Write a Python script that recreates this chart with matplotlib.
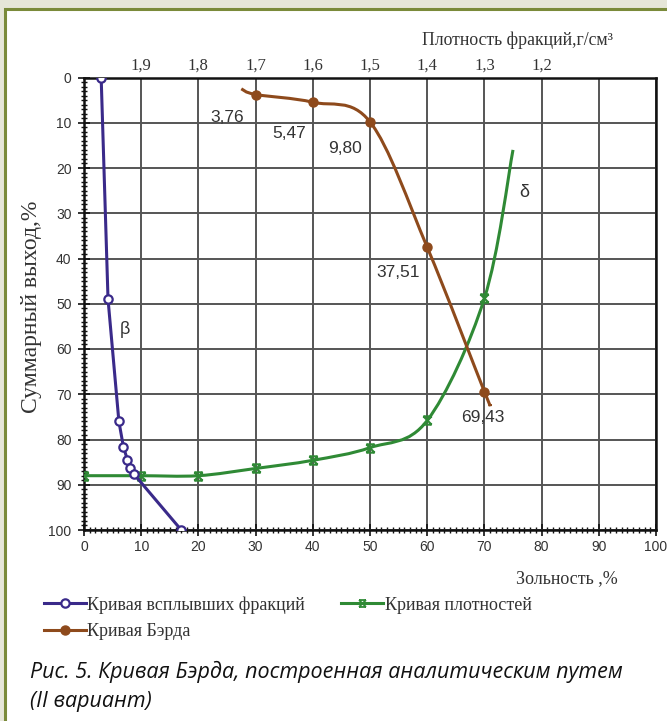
import numpy as np
import matplotlib
matplotlib.use('Agg')
import matplotlib.pyplot as plt
from matplotlib.path import Path
from matplotlib.patches import PathPatch, Rectangle
from matplotlib.lines import Line2D
from matplotlib.ticker import MultipleLocator

# ---- data ----
float_x = [3.0, 4.2, 6.1, 6.9, 7.6, 8.1, 8.7, 17.0]
float_y = [0, 49, 76, 81.7, 84.5, 86.3, 87.6, 100]

dens_x = [0, 10, 20, 30, 40, 50, 60, 70, 75]
dens_y = [88, 88, 88, 86.4, 84.6, 81.8, 75.8, 48.8, 16]

baird_x = [27.5, 30, 40, 50, 60, 70, 71]
baird_y = [2.5, 3.76, 5.47, 9.80, 37.51, 69.43, 72.2]
baird_labels = ['3,76', '5,47', '9,80', '37,51', '69,43']
baird_label_pos = [(25.1, 8.9), (35.8, 12.3), (45.7, 15.6), (55.0, 43.2), (69.8, 75.1)]

density_ticks = [10, 20, 30, 40, 50, 60, 70, 80]
density_labels = ['1,9', '1,8', '1,7', '1,6', '1,5', '1,4', '1,3', '1,2']

BLUE = '#3a2a8a'
GREEN = '#2f8a35'
BROWN = '#8e4a1c'
SERIF = 'Liberation Serif'
SANS = 'Liberation Sans'


def smooth_path(x, y):
    pts = np.column_stack([x, y]).astype(float)
    n = len(pts)
    verts = [pts[0]]
    codes = [Path.MOVETO]
    for i in range(n - 1):
        p0 = pts[i - 1] if i > 0 else pts[i]
        p1 = pts[i]
        p2 = pts[i + 1]
        p3 = pts[i + 2] if i + 2 < n else pts[i + 1]
        verts += [p1 + (p2 - p0) / 6.0, p2 - (p3 - p1) / 6.0, p2]
        codes += [Path.CURVE4] * 3
    return Path(verts, codes)


star = Path([(-1, 1), (1, -1), (-1, -1), (1, 1), (-1, 1), (1, 1), (-1, -1), (1, -1)],
            [Path.MOVETO, Path.LINETO, Path.MOVETO, Path.LINETO,
             Path.MOVETO, Path.LINETO, Path.MOVETO, Path.LINETO])

W, H = 667, 721
fig = plt.figure(figsize=(W / 100, H / 100), dpi=100)
fig.patch.set_facecolor('#e6e6d8')
fig.patches.append(Rectangle((5 / W, -0.01), 1, 1.01 - 9 / H, transform=fig.transFigure,
                             facecolor='white', edgecolor='#7a8a3a', lw=2.2, zorder=-10))

ax = fig.add_axes([84 / W, 1 - 530 / H, (656 - 84) / W, (530 - 77.5) / H])
ax.set_xlim(0, 100)
ax.set_ylim(100, 0)
ax.xaxis.set_major_locator(MultipleLocator(10))
ax.xaxis.set_minor_locator(MultipleLocator(1))
ax.yaxis.set_major_locator(MultipleLocator(10))
ax.yaxis.set_minor_locator(MultipleLocator(1))
ax.grid(True, which='major', color='#555555', lw=1.4)
ax.set_axisbelow(True)
for s in ax.spines.values():
    s.set_color('#111111')
    s.set_linewidth(1.8)
ax.tick_params(which='major', direction='inout', length=8, width=1.2, colors='#111111',
               labelsize=10, pad=5, labelcolor='#333333')
ax.tick_params(which='minor', direction='inout', length=5, width=1.0, colors='#111111')
ax.tick_params(axis='x', which='major', pad=3)
for lab in ax.get_xticklabels() + ax.get_yticklabels():
    lab.set_fontfamily(SANS)

# top density axis
top = ax.secondary_xaxis('top')
top.set_xticks(density_ticks)
top.set_xticklabels(density_labels)
top.tick_params(length=0, pad=3, labelsize=12, labelcolor='#333333')
top.spines['top'].set_visible(False)
for lab in top.get_xticklabels():
    lab.set_fontfamily(SERIF)

# curves
ax.plot(float_x, float_y, color=BLUE, lw=2.2, marker='o', ms=6, mfc='white',
        mec=BLUE, mew=1.6, zorder=4)
ax.add_patch(PathPatch(smooth_path(dens_x, dens_y), fill=False, edgecolor=GREEN, lw=2.2, zorder=3))
ax.plot(dens_x[:-1], dens_y[:-1], ls='none', marker=star, ms=6, mec=GREEN, mfc='none', mew=1.5, zorder=3)
ax.add_patch(PathPatch(smooth_path(baird_x, baird_y), fill=False, edgecolor=BROWN, lw=2.2, zorder=3))
ax.plot(baird_x[1:-1], baird_y[1:-1], ls='none', marker='o', ms=6.5, color=BROWN, zorder=4)

for t, (lx, ly) in zip(baird_labels, baird_label_pos):
    ax.text(lx, ly, t, ha='center', va='center', fontsize=12.5, family=SANS, color='#333333')

ax.text(7.2, 55.8, 'β', ha='center', va='center', fontsize=13, family=SANS, color='#333333')
ax.text(77, 25.5, 'δ', ha='center', va='center', fontsize=13, family=SANS, color='#333333')

# axis titles
fig.text(32 / W, 1 - 307 / H, 'Суммарный выход,%', rotation=90, ha='center', va='center',
         fontsize=17, family=SERIF, color='#333333')
fig.text(517 / W, 1 - 40 / H, 'Плотность фракций,г/см³', ha='center', va='center',
         fontsize=12.8, family=SERIF, color='#333333')
fig.text(567 / W, 1 - 579 / H, 'Зольность ,%', ha='center', va='center',
         fontsize=13, family=SERIF, color='#333333')

# legend
handles = [
    Line2D([], [], color=BLUE, lw=2.2, marker='o', ms=6, mfc='white', mec=BLUE, mew=1.6),
    Line2D([], [], color=BROWN, lw=2.2, marker='o', ms=6.5),
    Line2D([], [], color=GREEN, lw=2.2, marker=star, ms=5, mfc='none', mec=GREEN, mew=1.3),
]
labels = ['Кривая всплывших фракций', 'Кривая Бэрда', 'Кривая плотностей']
leg = fig.legend(handles, labels, loc='upper left', bbox_to_anchor=(44 / W, 1 - 596 / H),
                 ncol=2, frameon=False, handlelength=2.3, handletextpad=0.1,
                 columnspacing=2.0, labelspacing=0.55, borderaxespad=0, borderpad=0,
                 prop={'family': SERIF, 'size': 13})
for t in leg.get_texts():
    t.set_color('#333333')

# caption
fig.text(30 / W, 1 - 672 / H, 'Рис. 5. Кривая Бэрда, построенная аналитическим путем',
         ha='left', va='center', fontsize=15.5, family='Open Sans', style='italic', color='#111111')
fig.text(30 / W, 1 - 701 / H, '(II вариант)',
         ha='left', va='center', fontsize=15.5, family='Open Sans', style='italic', color='#111111')

fig.savefig('out.png', dpi=100, facecolor=fig.get_facecolor())
